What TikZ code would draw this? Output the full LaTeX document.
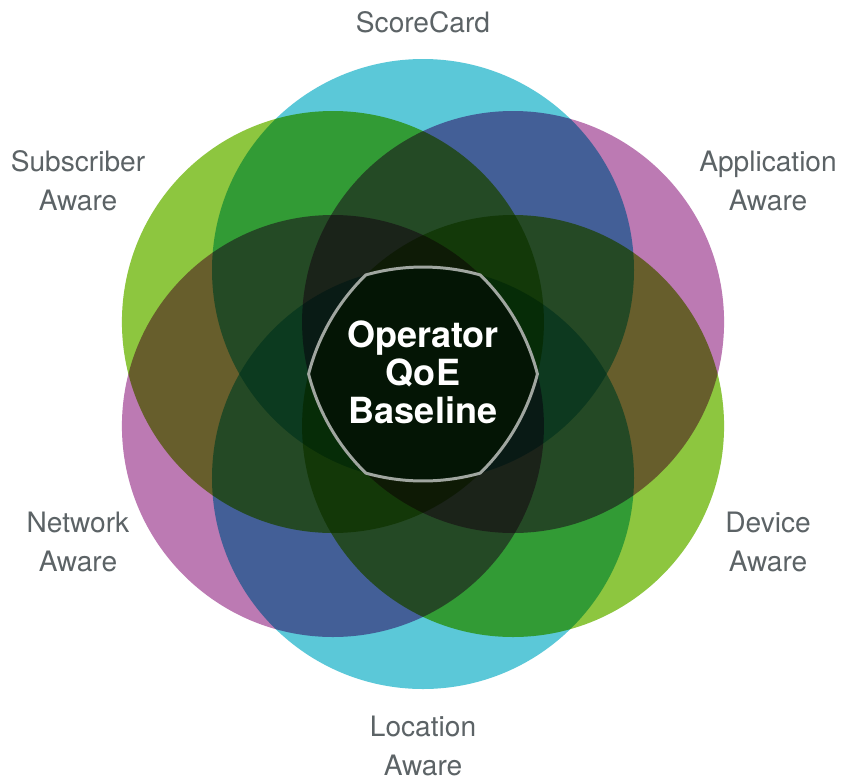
\documentclass[tikz,border=0pt]{standalone}
\usepackage{fontspec}
\setmainfont{TeX Gyre Heros}
\usepackage{tikz}
\usetikzlibrary{positioning}

\definecolor{sccyan}{RGB}{91,200,216}
\definecolor{scgreen}{RGB}{141,198,63}
\definecolor{scpurple}{RGB}{188,122,179}
\definecolor{lblgrey}{RGB}{92,99,102}
\definecolor{rimgrey}{RGB}{160,166,160}

\tikzset{
  petal/.style={blend mode=multiply},
  lbl/.style={text=lblgrey, align=center, anchor=base, inner sep=0pt,
    font=\fontsize{16}{22}\selectfont},
  core/.style={draw=rimgrey, line width=1.7pt},
  corelbl/.style={text=white, align=center, anchor=base, inner sep=0pt,
    font=\fontsize{20.5}{21.5}\selectfont\bfseries}
}

\begin{document}
\begin{tikzpicture}[x=0.02cm,y=0.02cm]
  %\draw[step=20,gray,very thin] (-423,-404) grid (431,374);

  %page
  \fill[white] (-423,-404) rectangle (431,374);

  %circles
  \begin{scope}
    \fill[petal,sccyan]   (90:104)  circle[radius=211];
    \fill[petal,scgreen]  (150:104) circle[radius=211];
    \fill[petal,scpurple] (30:104)  circle[radius=211];
    \fill[petal,scpurple] (210:104) circle[radius=211];
    \fill[petal,scgreen]  (330:104) circle[radius=211];
    \fill[petal,sccyan]   (270:104) circle[radius=211];
  \end{scope}

  %baseline rim
  \draw[core] (0:114.4)
    \foreach \a in {30,90,...,330} { arc[start angle=\a-15.73, end angle=\a+15.73, radius=211] }
    -- cycle;

  %centre text (anchored at last line)
  \node[corelbl] (base) at (0,-49) {Operator\\QoE\\Baseline};

  %labels
  \node[lbl] (score) at (0,341) {ScoreCard};
  \node[lbl] (subscriber) at (-345,164) {Subscriber\\Aware};
  \node[lbl] (application) at (345,164) {Application\\Aware};
  \node[lbl] (network) at (-345,-197) {Network\\Aware};
  \node[lbl] (device) at (345,-197) {Device\\Aware};
  \node[lbl] (location) at (0,-401) {Location\\Aware};

\end{tikzpicture}
\end{document}
